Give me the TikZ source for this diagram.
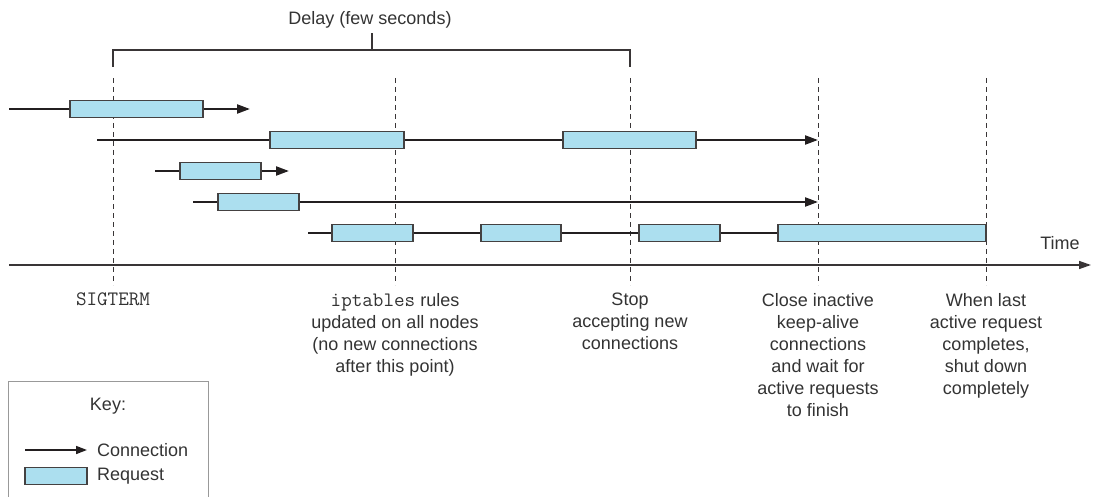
\documentclass[tikz,border=0pt]{standalone}
\usepackage{fontspec}
\setmainfont{Liberation Sans}
\setmonofont[Scale=1.14]{Latin Modern Mono}
\usetikzlibrary{arrows.meta}
\definecolor{reqfill}{HTML}{ACDFEF}
\definecolor{ink}{HTML}{231F20}
\definecolor{txt}{HTML}{333333}
\definecolor{keyc}{HTML}{999999}
\tikzset{
  req/.style={draw=ink!85, fill=reqfill, line width=1.3pt, inner sep=0pt, minimum height=17pt},
  conn/.style={draw=ink, line width=2.2pt},
  connarrow/.style={conn, -{Triangle[length=13pt,width=9pt]}},
  timeline/.style={draw=ink!90, dashed, line width=0.9pt, dash pattern=on 5pt off 4pt},
  bracket/.style={draw=ink!90, line width=1.1pt},
  lbl/.style={text=txt, align=center, inner sep=0pt, font=\fontsize{18}{22}\selectfont},
}
\begin{document}
\begin{tikzpicture}[x=1pt,y=-1pt]
\useasboundingbox (0,0) rectangle (1094,497);

% bracket
\coordinate (bl) at (113,67);
\coordinate (blt) at (113,50);
\coordinate (brt) at (630,50);
\coordinate (br) at (630,67);
\coordinate (bm) at (372,50);
\coordinate (bmt) at (372,33);
\draw[bracket] (bl) -- (blt) -- (brt) -- (br);
\draw[bracket] (bm) -- (bmt);
\node[lbl] (delay) at (370,20) {Delay (few seconds)};

% dashed time markers
\foreach \n/\x in {t1/113,t2/395,t3/630,t4/818,t5/986}{
  \coordinate (\n top) at (\x,78);
  \coordinate (\n bot) at (\x,285);
  \draw[timeline] (\n top) -- (\n bot);
}

% row 1
\coordinate (c1s) at (9,109);
\coordinate (c1e) at (250,109);
\node[req, minimum width=133pt] (r1) at (136.5,109) {};
\draw[conn] (c1s) -- (r1.west);
\draw[connarrow] (r1.east) -- (c1e);

% row 2
\coordinate (c2s) at (97,140);
\coordinate (c2e) at (818,140);
\node[req, minimum width=134pt] (r2a) at (337,140) {};
\node[req, minimum width=133pt] (r2b) at (629.5,140) {};
\draw[conn] (c2s) -- (r2a.west);
\draw[conn] (r2a.east) -- (r2b.west);
\draw[connarrow] (r2b.east) -- (c2e);

% row 3
\coordinate (c3s) at (155,171);
\coordinate (c3e) at (289,171);
\node[req, minimum width=81pt] (r3) at (220.5,171) {};
\draw[conn] (c3s) -- (r3.west);
\draw[connarrow] (r3.east) -- (c3e);

% row 4
\coordinate (c4s) at (193,202);
\coordinate (c4e) at (818,202);
\node[req, minimum width=81pt] (r4) at (258.5,202) {};
\draw[conn] (c4s) -- (r4.west);
\draw[connarrow] (r4.east) -- (c4e);

% row 5
\coordinate (c5s) at (308,233);
\node[req, minimum width=81pt] (r5a) at (372.5,233) {};
\node[req, minimum width=80pt] (r5b) at (521,233) {};
\node[req, minimum width=81pt] (r5c) at (679.5,233) {};
\node[req, minimum width=208pt] (r5d) at (882,233) {};
\draw[conn] (c5s) -- (r5a.west);
\draw[conn] (r5a.east) -- (r5b.west);
\draw[conn] (r5b.east) -- (r5c.west);
\draw[conn] (r5c.east) -- (r5d.west);

% time axis
\coordinate (ax0) at (9,265);
\coordinate (ax1) at (1091,265);
\draw[draw=ink!90, line width=1.5pt, -{Triangle[length=12pt,width=8pt]}] (ax0) -- (ax1);
\node[lbl] (time) at (1060,243) {Time};

% event labels
\node[lbl, anchor=north] (ev1) at (113,293) {\texttt{SIGTERM}};
\node[lbl, anchor=north] (ev2) at (395,293) {\texttt{iptables} rules\\updated on all nodes\\(no new connections\\after this point)};
\node[lbl, anchor=north] (ev3) at (630,293) {Stop\\accepting new\\connections};
\node[lbl, anchor=north] (ev4) at (818,293) {Close inactive\\keep-alive\\connections\\and wait for\\active requests\\to finish};
\node[lbl, anchor=north] (ev5) at (986,293) {When last\\active request\\completes,\\shut down\\completely};

% key
\coordinate (k1) at (8,500);
\coordinate (k2) at (8,381);
\coordinate (k3) at (208,381);
\coordinate (k4) at (208,500);
\draw[draw=keyc, line width=1pt] (k1) -- (k2) -- (k3) -- (k4);
\node[lbl] (keyt) at (108,406) {Key:};
\coordinate (kc0) at (25,450);
\coordinate (kc1) at (87,450);
\draw[draw=ink, line width=1.6pt, -{Triangle[length=11pt,width=8pt]}] (kc0) -- (kc1);
\node[lbl, anchor=west] (kconn) at (97,450) {Connection};
\node[req, minimum width=62pt] (kreq) at (56,476) {};
\node[lbl, anchor=west] (kreqt) at (97,476) {Request};
\end{tikzpicture}
\end{document}
